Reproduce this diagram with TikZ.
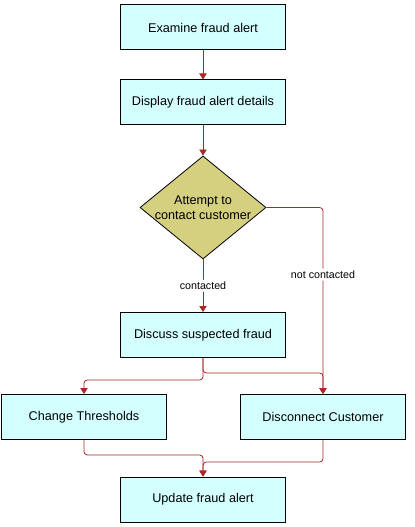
\documentclass[tikz,border=0pt]{standalone}
\usepackage{fontspec}
\setmainfont{Liberation Sans}
\usetikzlibrary{shapes.geometric,arrows.meta}
\definecolor{boxfill}{RGB}{212,255,255}
\definecolor{decfill}{RGB}{212,208,128}
\definecolor{flowred}{RGB}{168,40,40}
\begin{document}
\begin{tikzpicture}[x=0.75pt,y=-0.75pt,font=\fontsize{9.5}{11.25}\selectfont,
    task/.style={draw,fill=boxfill,line width=0.75pt,minimum width=123.5pt,minimum height=33.75pt,inner sep=0pt},
    decision/.style={diamond,draw,fill=decfill,line width=0.6pt,inner sep=0pt,minimum width=94.5pt,minimum height=77.25pt},
    flow/.style={draw=flowred,line width=0.6pt,rounded corners=2.5pt,-{Triangle[width=5.5pt,length=4.5pt]}},
    cond/.style={font=\fontsize{8}{9.6}\selectfont,fill=white,inner sep=1.5pt}]
    \useasboundingbox (0,0) rectangle (414,527);
    % Knoten
    \node[task] (examine) at (203,27.5) {Examine fraud alert};
    \node[task] (display) at (203,102.5) {Display fraud alert details};
    \node[decision] (attempt) at (203,207.5) {};
    \node[align=center] (attempttext) at (attempt) {Attempt to\\contact customer};
    \node[task] (discuss) at (203,335) {Discuss suspected fraud};
    \node[task] (change) at (84,417) {Change Thresholds};
    \node[task] (disconnect) at (323,417) {Disconnect Customer};
    \node[task] (update) at (203,499.5) {Update fraud alert};
    % Pfeile
    \foreach \a/\b in {examine/display,display/attempt}{
      \draw[flow] (\a) -- (\b);
    }
    \draw[flow] (attempt) -- node[cond]{contacted} (discuss);
    \draw[flow] (attempt.east) -| node[cond,pos=0.68]{not contacted} (disconnect.north);
    \draw[flow] (discuss.south) -- ++(0,22) -| (change.north);
    \draw[flow] (discuss.south) -- ++(0,15) -| (disconnect.north);
    \draw[flow] (change.south) -- ++(0,15) -| (update.north);
    \draw[flow] (disconnect.south) -- ++(0,22) -| (update.north);
\end{tikzpicture}
\end{document}
